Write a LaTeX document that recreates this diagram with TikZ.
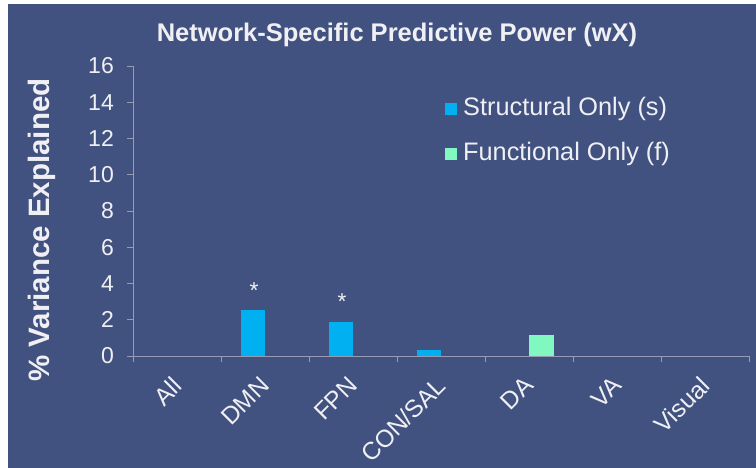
\documentclass[tikz,border=0pt]{standalone}
\usepackage{fontspec}
\setmainfont{Liberation Sans}
\definecolor{slide}{RGB}{66,82,128}
\definecolor{ink}{RGB}{240,240,244}
\definecolor{axisgrey}{RGB}{150,156,180}
\definecolor{structc}{RGB}{0,176,240}
\definecolor{funcc}{RGB}{128,248,192}
\begin{document}
\begin{tikzpicture}[x=1pt,y=-1pt,
  lbl/.style={text=ink,inner sep=0pt},
  axisline/.style={draw=axisgrey,line width=0.8pt},
  sbar/.style={fill=structc,draw=none},
  fbar/.style={fill=funcc,draw=none},
  catlbl/.style={lbl,font=\fontsize{24.5}{24.5}\selectfont,rotate=45,anchor=north east}]
\useasboundingbox (0,0) rectangle (756,468);
% slide background with a thin white margin on the left and top
\fill[white] (0,0) rectangle (756,468);
\fill[slide] (8,4) rectangle (756,468);

% title
\node[lbl,font=\bfseries\fontsize{25.5}{25.5}\selectfont] (title) at (397,35) {Network-Specific Predictive Power (wX)};

% y axis with ticks and labels
\draw[axisline] (133,66) -- (133,356);
\foreach \v in {0,2,...,16}{
  \draw[axisline] (127,{356-18.125*\v}) -- (133,{356-18.125*\v});
  \node[lbl,anchor=east,font=\fontsize{23}{23}\selectfont] (ytick\v) at (114,{356-18.125*\v}) {\v};
}
\node[lbl,rotate=90,font=\bfseries\fontsize{29.5}{29.5}\selectfont] (ylabel) at (42,230) {\% Variance Explained};

% x axis with category ticks
\draw[axisline] (133,356) -- (749,356);
\foreach \i in {0,...,7}{
  \draw[axisline] ({133+88*\i},356) -- ({133+88*\i},362);
}

% bars
\fill[sbar] (240.5,356) rectangle (265,{356-18.125*2.54});
\fill[sbar] (328.5,356) rectangle (353,{356-18.125*1.88});
\fill[sbar] (416.5,356) rectangle (441,{356-18.125*0.33});
\fill[fbar] (529,356) rectangle (553.5,{356-18.125*1.15});

% significance marks
\node[lbl,font=\fontsize{23}{23}\selectfont] (starDMN) at (254,291) {*};
\node[lbl,font=\fontsize{23}{23}\selectfont] (starFPN) at (342,302) {*};

% category labels
\foreach \name [count=\i from 0] in {All,DMN,FPN,CON/SAL,DA,VA,Visual}{
  \node[catlbl] (cat\i) at ({133+88*\i+38},375) {\name};
}

% legend
\fill[structc] (445,103) rectangle (457,115);
\node[lbl,anchor=west,font=\fontsize{25.3}{25.3}\selectfont] (legS) at (463,109) {Structural Only (s)};
\fill[funcc] (445,148) rectangle (457,160);
\node[lbl,anchor=west,font=\fontsize{25.3}{25.3}\selectfont] (legF) at (463,154) {Functional Only (f)};
\end{tikzpicture}
\end{document}
